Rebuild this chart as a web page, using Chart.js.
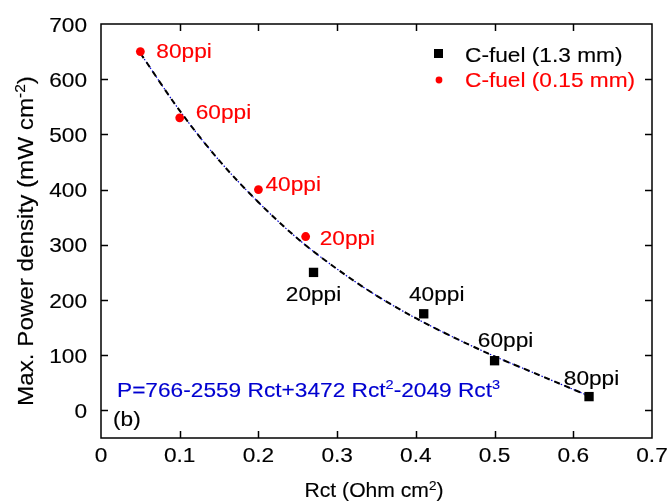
<!DOCTYPE html>
<html>
<head>
<meta charset="utf-8">
<script src="https://cdn.jsdelivr.net/npm/chart.js@4/dist/chart.umd.min.js"></script>
<style>
  html, body { margin: 0; padding: 0; background: #fff; }
  #myChart { display: block; }
</style>
</head>
<body>
<canvas id="myChart" width="669" height="501"></canvas>
<script>
// C-fuel (1.3 mm) - black squares
const thickRct = [0.27, 0.41, 0.5, 0.62];
const thickPower = [250, 175, 90, 25];
const thickLabels = ["20ppi", "40ppi", "60ppi", "80ppi"];

// C-fuel (0.15 mm) - red dots
const thinRct = [0.05, 0.1, 0.2, 0.26];
const thinPower = [650, 530, 400, 315];
const thinLabels = ["80ppi", "60ppi", "40ppi", "20ppi"];

// fitted curve
const fitRct = [0.05, 0.1, 0.15, 0.2, 0.25, 0.3, 0.35, 0.4, 0.45, 0.5, 0.55, 0.6, 0.62];
const fitPower = [647, 543, 453, 377, 311, 256, 208, 167, 131, 98, 68, 38, 26];

const xTicks = [0, 0.1, 0.2, 0.3, 0.4, 0.5, 0.6, 0.7];
const yTicks = [0, 100, 200, 300, 400, 500, 600, 700];

const FONT = '"Liberation Sans", Arial, Helvetica, sans-serif';
const RED = "#ff0000";
const BLUE = "#0000d0";

function toXY(xs, ys) {
    return xs.map((x, i) => ({ x: x, y: ys[i] }));
}

// draws text made of pieces, some of them superscript; a bit stretched sideways like the original
function drawRich(ctx, parts, x, y, o) {
    const size = o.size || 21;
    const sx = o.sx || 1.08;
    ctx.save();
    ctx.translate(x, y);
    if (o.rot) ctx.rotate(o.rot);
    ctx.scale(sx, 1);
    ctx.fillStyle = o.color || "#000";
    ctx.strokeStyle = o.color || "#000";
    ctx.lineWidth = 0.15;
    ctx.textBaseline = "alphabetic";
    ctx.textAlign = "left";
    let w = 0;
    parts.forEach(p => {
        ctx.font = (p.sup ? size * 0.64 : size) + "px " + FONT;
        w += ctx.measureText(p.t).width;
    });
    let cx = 0;
    if (o.align === "center") cx = -w / 2;
    if (o.align === "right") cx = -w;
    parts.forEach(p => {
        ctx.font = (p.sup ? size * 0.64 : size) + "px " + FONT;
        const dy = p.sup ? -size * 0.36 : 0;
        ctx.fillText(p.t, cx, dy);
        ctx.strokeText(p.t, cx, dy);
        cx += ctx.measureText(p.t).width;
    });
    ctx.restore();
}

const framePlugin = {
    id: "frame",
    afterDraw(chart) {
        const ctx = chart.ctx;
        const a = chart.chartArea;
        const xs = chart.scales.x;
        const ys = chart.scales.y;
        const tl = 7;

        ctx.save();
        ctx.strokeStyle = "#000";
        ctx.lineWidth = 1.5;
        ctx.strokeRect(a.left, a.top, a.right - a.left, a.bottom - a.top);
        ctx.beginPath();
        xTicks.forEach(v => {
            const px = Math.round(xs.getPixelForValue(v)) + 0.5;
            if (px <= a.left + 1 || px >= a.right - 1) return;
            ctx.moveTo(px, a.bottom); ctx.lineTo(px, a.bottom - tl);
            ctx.moveTo(px, a.top); ctx.lineTo(px, a.top + tl);
        });
        yTicks.forEach(v => {
            const py = Math.round(ys.getPixelForValue(v)) + 0.5;
            if (py <= a.top + 1 || py >= a.bottom - 1) return;
            ctx.moveTo(a.left, py); ctx.lineTo(a.left + tl, py);
            ctx.moveTo(a.right, py); ctx.lineTo(a.right - tl, py);
        });
        ctx.stroke();
        ctx.restore();

        // tick labels
        xTicks.forEach(v => {
            drawRich(ctx, [{ t: String(v) }], xs.getPixelForValue(v), 462, { align: "center" });
        });
        yTicks.forEach(v => {
            drawRich(ctx, [{ t: String(v) }], 87, ys.getPixelForValue(v) + 7.5, { align: "right" });
        });

        // axis titles
        drawRich(ctx, [{ t: "Rct (Ohm cm" }, { t: "2", sup: true }, { t: ")" }], 374, 497,
            { align: "center", size: 20.5, sx: 1.03 });
        drawRich(ctx, [{ t: "Max. Power density (mW cm" }, { t: "-2", sup: true }, { t: ")" }], 33, 241,
            { align: "center", size: 22, sx: 1.1, rot: -Math.PI / 2 });

        // legend
        ctx.save();
        ctx.fillStyle = "#000";
        ctx.fillRect(434, 49, 9, 9);
        ctx.fillStyle = RED;
        ctx.beginPath();
        ctx.arc(439, 80, 3.4, 0, Math.PI * 2);
        ctx.fill();
        ctx.restore();
        drawRich(ctx, [{ t: "C-fuel (1.3 mm)" }], 465, 62, {});
        drawRich(ctx, [{ t: "C-fuel (0.15 mm)" }], 465, 87, { color: RED });

        // point labels
        const thinOff = [[16, 6.5], [16, 1.5], [7, 1], [14, 8.5]];
        thinLabels.forEach((s, i) => {
            const px = xs.getPixelForValue(thinRct[i]);
            const py = ys.getPixelForValue(thinPower[i]);
            drawRich(ctx, [{ t: s }], px + thinOff[i][0], py + thinOff[i][1], { color: RED });
        });
        const thickOff = [[0, 28.5], [13, -13], [11, -14], [2.5, -12]];
        thickLabels.forEach((s, i) => {
            const px = xs.getPixelForValue(thickRct[i]);
            const py = ys.getPixelForValue(thickPower[i]);
            drawRich(ctx, [{ t: s }], px + thickOff[i][0], py + thickOff[i][1], { align: "center" });
        });

        // fit equation and panel tag
        drawRich(ctx, [
            { t: "P=766-2559 Rct+3472 Rct" }, { t: "2", sup: true },
            { t: "-2049 Rct" }, { t: "3", sup: true }
        ], 117, 397, { color: BLUE });
        drawRich(ctx, [{ t: "(b)" }], 113, 426, {});
    }
};

const ctx = document.querySelector("#myChart").getContext("2d");
const myChart = new Chart(ctx, {
    type: "scatter",
    data: {
        datasets: [
            {
                label: "fit (blue)",
                data: toXY(fitRct, fitPower),
                showLine: true,
                borderColor: BLUE,
                borderWidth: 1.2,
                borderDash: [1.5, 2],
                pointRadius: 0,
                cubicInterpolationMode: "monotone",
                order: 4,
            },
            {
                label: "fit",
                data: toXY(fitRct, fitPower),
                showLine: true,
                borderColor: "#000",
                borderWidth: 2,
                borderDash: [6, 5],
                pointRadius: 0,
                cubicInterpolationMode: "monotone",
                order: 3,
            },
            {
                label: "C-fuel (1.3 mm)",
                data: toXY(thickRct, thickPower),
                pointStyle: "rect",
                pointRadius: 6.6,
                backgroundColor: "#000",
                borderColor: "#000",
                borderWidth: 0,
                order: 1,
            },
            {
                label: "C-fuel (0.15 mm)",
                data: toXY(thinRct, thinPower),
                pointStyle: "circle",
                pointRadius: 4.4,
                backgroundColor: RED,
                borderColor: RED,
                borderWidth: 0,
                order: 2,
            },
        ],
    },
    options: {
        responsive: false,
        animation: false,
        devicePixelRatio: 1,
        layout: { padding: { top: 24, right: 17, left: 0, bottom: 0 } },
        plugins: {
            legend: { display: false },
            tooltip: { enabled: false },
        },
        scales: {
            x: {
                type: "linear",
                min: 0,
                max: 0.7,
                grid: { display: false },
                border: { display: false },
                ticks: { display: false },
                afterBuildTicks: axis => { axis.ticks = xTicks.map(v => ({ value: v })); },
                afterFit: axis => { axis.height = 63; },
            },
            y: {
                type: "linear",
                min: -50,
                max: 700,
                grid: { display: false },
                border: { display: false },
                ticks: { display: false },
                afterBuildTicks: axis => { axis.ticks = yTicks.map(v => ({ value: v })); },
                afterFit: axis => { axis.width = 101; },
            },
        },
    },
    plugins: [framePlugin],
});
</script>
</body>
</html>
